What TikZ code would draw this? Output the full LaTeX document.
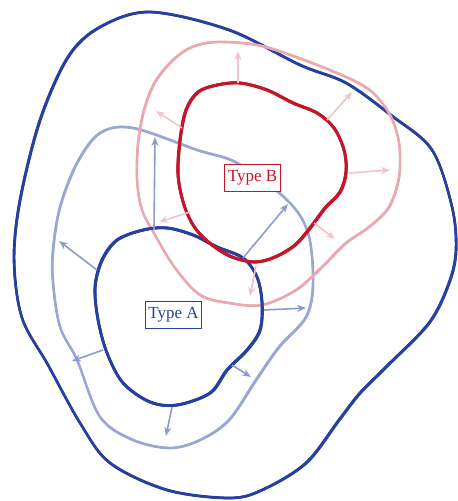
\documentclass[tikz,border=0pt]{standalone}
\usepackage{fontspec}
\setmainfont{Liberation Serif}
\usetikzlibrary{arrows.meta}
\definecolor{dblue}{RGB}{38,64,158}
\definecolor{lblue}{RGB}{155,166,212}
\definecolor{ablue}{RGB}{140,155,206}
\definecolor{redB}{RGB}{196,22,42}
\definecolor{pinkP}{RGB}{234,168,176}
\definecolor{apink}{RGB}{240,195,200}
\newcommand\sketchloop[3]{%
  \foreach \sa/\sb/\sw in {0/0/1.0, 0.9/0.6/0.55, -0.8/-0.5/0.5, 0.5/-0.9/0.45, -0.4/0.9/0.4}{%
    \draw[#1, line width={#2*\sw*1pt}, shift={(\sa,\sb)}] plot[smooth cycle, tension=0.55] coordinates {#3};
  }%
}
\tikzset{
  bluearrow/.style={ablue, line width=1.6pt, -{Stealth[length=9pt,width=7pt]}},
  pinkarrow/.style={apink, line width=1.6pt, -{Stealth[length=9pt,width=7pt]}},
  typelabel/.style={draw, fill=white, line width=0.9pt, inner xsep=3pt, inner ysep=6pt, font=\fontsize{17}{19}\selectfont},
}
\begin{document}
\begin{tikzpicture}[x=1pt,y=-1pt]
\useasboundingbox (0,0) rectangle (458,501);
% outer dark blue
\sketchloop{dblue}{2.2}{(150,12) (100,27) (68,57) (40,120) (20,200) (14,260) (22,318) (48,365) (80,423) (110,463) (167,490) (229,498) (262,490) (306,463) (339,420) (360,393) (386,367) (429,323) (449,283) (456,250) (452,207) (432,150) (392,116) (346,83) (300,65) (229,30)}
% middle light blue
\sketchloop{lblue}{1.8}{(133,128) (197,150) (237,163) (287,200) (308,233) (313,283) (306,317) (279,347) (256,380) (229,420) (200,440) (170,448) (133,440) (100,417) (77,360) (60,327) (53,283) (53,250) (60,207) (77,163) (100,133)}
% pink outer
\sketchloop{pinkP}{1.8}{(217,42) (257,45) (296,57) (346,77) (372,92) (390,115) (399,143) (399,177) (389,207) (369,227) (346,243) (322,267) (296,290) (262,305) (229,303) (200,295) (175,268) (155,235) (142,210) (137,180) (138,143) (144,110) (155,82) (173,60) (192,47)}
% Type A inner
\sketchloop{dblue}{2.6}{(117,240) (143,230) (167,228) (193,235) (217,247) (243,258) (257,277) (262,303) (260,330) (247,350) (227,370) (210,393) (177,405) (150,402) (123,383) (107,353) (98,320) (95,287) (102,260)}
% Type B inner
\sketchloop{redB}{2.8}{(217,85) (240,83) (267,90) (293,103) (317,113) (334,128) (344,150) (346,172) (340,192) (325,208) (310,228) (295,245) (275,257) (255,262) (232,257) (212,245) (195,228) (184,205) (178,175) (180,140) (186,110) (198,92)}
% arrow coordinates
\coordinate (b1s) at (238,83);  \coordinate (b1e) at (238,51);
\coordinate (b2s) at (327,120); \coordinate (b2e) at (352,92);
\coordinate (b3s) at (349,173); \coordinate (b3e) at (390,170);
\coordinate (b4s) at (314,223); \coordinate (b4e) at (335,239);
\coordinate (b5s) at (182,128); \coordinate (b5e) at (156,111);
\coordinate (b6s) at (190,212); \coordinate (b6e) at (159,222);
\coordinate (b7s) at (256,266); \coordinate (b7e) at (250,296);
\coordinate (a1s) at (154,230); \coordinate (a1e) at (155,137);
\coordinate (a2s) at (243,258); \coordinate (a2e) at (288,204);
\coordinate (a3s) at (97,270);  \coordinate (a3e) at (59,241);
\coordinate (a4s) at (103,350); \coordinate (a4e) at (72,361);
\coordinate (a5s) at (172,407); \coordinate (a5e) at (166,436);
\coordinate (a6s) at (232,365); \coordinate (a6e) at (251,377);
\coordinate (a7s) at (264,310); \coordinate (a7e) at (306,308);
\foreach \n in {1,...,7}{\draw[pinkarrow] (b\n s) -- (b\n e);}
\foreach \n in {1,...,7}{\draw[bluearrow] (a\n s) -- (a\n e);}
% labels
\node[typelabel, draw=redB, text=redB] (typeB) at (252.5,178) {Type B};
\node[typelabel, draw=dblue, text=dblue] (typeA) at (173.5,315) {Type A};
\end{tikzpicture}
\end{document}
